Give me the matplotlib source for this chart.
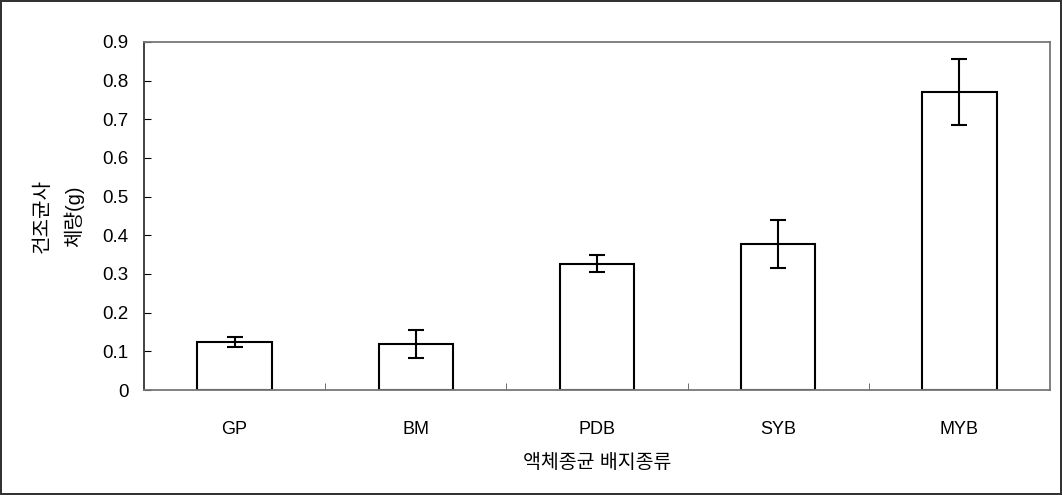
import numpy as np
import matplotlib.pyplot as plt

# 액체종균 배지별 건조균사체량
배지 = ['GP', 'BM', 'PDB', 'SYB', 'MYB']
건조량 = [0.125, 0.119, 0.327, 0.378, 0.771]
오차 = [0.013, 0.036, 0.023, 0.062, 0.085]

plt.rcParams['font.family'] = ['Liberation Sans', 'Noto Sans CJK KR', 'DejaVu Sans']

fig = plt.figure(figsize=(10.62, 4.95), dpi=100)
fig.patch.set_edgecolor('#333333')
fig.patch.set_linewidth(1.5)
ax = fig.add_axes([0.1356, 0.2121, 0.8531, 0.7031])

x = np.arange(len(배지))
ax.bar(x, 건조량, width=0.41, color='white', edgecolor='black', linewidth=1.5,
       yerr=오차, capsize=5.5, error_kw=dict(elinewidth=1.5, capthick=1.5, ecolor='black'))

ax.set_xlim(-0.5, len(배지) - 0.5)
ax.set_ylim(0, 0.9)
ax.set_yticks(np.arange(0, 0.91, 0.1))
ax.set_yticklabels(['0'] + [f'{v:.1f}' for v in np.arange(0.1, 0.91, 0.1)])
ax.set_xticks(x)
ax.set_xticklabels(배지)
ax.set_xticks(np.arange(0.5, len(배지) - 0.5, 1), minor=True)
ax.tick_params(axis='x', which='major', length=0, pad=22, labelsize=13)
ax.tick_params(axis='x', which='minor', direction='in', length=5, color='#555555')
ax.tick_params(axis='y', direction='in', length=5, labelsize=13.5, pad=11)

for s in ['top', 'right', 'bottom']:
    ax.spines[s].set_color('#777777')
    ax.spines[s].set_linewidth(1.3)
ax.spines['left'].set_color('#333333')
ax.spines['left'].set_linewidth(1.3)

ax.set_xlabel('액체종균 배지종류', fontsize=14, labelpad=12)
ax.set_ylabel('건조균사\n체량(g)', fontsize=14.5, labelpad=13, linespacing=1.75)

fig.savefig('out.png', dpi=100, edgecolor=fig.get_edgecolor())
